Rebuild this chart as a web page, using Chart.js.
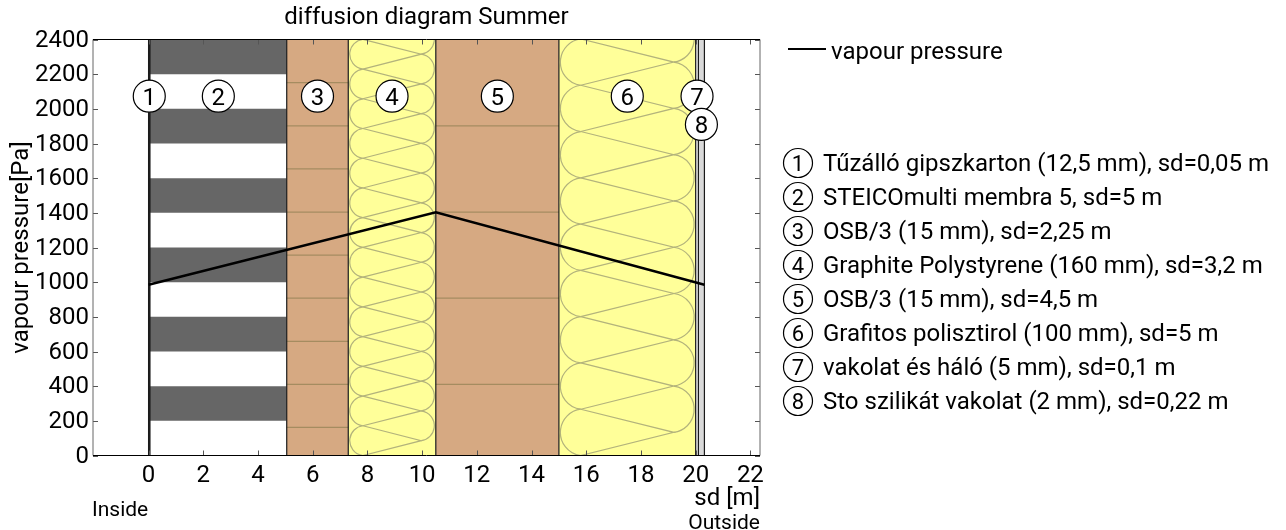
<!DOCTYPE html>
<html lang="en">
<head>
    <meta charset="UTF-8">
    <title>diffusion diagram Summer</title>
    <script src="https://cdn.jsdelivr.net/npm/chart.js"></script>
    <style>
        html, body { margin: 0; padding: 0; background: #fff; }
        #wrap { position: relative; width: 1286px; height: 530px; }
    </style>
</head>
<body>
    <div id="wrap"><canvas id="chart" width="1286" height="530"></canvas></div>

    <script>
        // wall layers, from inside to outside
        const layerEdges = [0, 0.05, 5.05, 7.3, 10.5, 15, 20, 20.1, 20.32];
        const layerFills = ['#111111', '#ffffff', '#d6a982', '#ffff99', '#d6a982', '#ffff99', '#eeeeee', '#d9d9d9'];
        const layerNames = [
            'Tűzálló gipszkarton (12,5 mm), sd=0,05 m',
            'STEICOmulti membra 5, sd=5 m',
            'OSB/3 (15 mm), sd=2,25 m',
            'Graphite Polystyrene (160 mm), sd=3,2 m',
            'OSB/3 (15 mm), sd=4,5 m',
            'Grafitos polisztirol (100 mm), sd=5 m',
            'vakolat és háló (5 mm), sd=0,1 m',
            'Sto szilikát vakolat (2 mm), sd=0,22 m'
        ];
        const labelY = [2073, 2073, 2073, 2073, 2073, 2073, 2073, 1910];

        // vapour pressure curve
        const sdValues = [0, 10.5, 20.32];
        const pressureValues = [985, 1403, 985];

        // membrane stripes (layer 2)
        const stripeBottoms = [200, 600, 1000, 1400, 1800, 2200];
        const stripeHeight = 200;

        // OSB board joints
        const osbJoints3 = [162, 410, 658, 908, 1156, 1404, 1654, 1902, 2151];
        const osbJoints5 = [410, 908, 1404, 1902];

        // insulation pattern repeat, in Pa
        const insulationRepeat4 = 171.5;
        const insulationRepeat6 = 267;

        const xTicks = [0, 2, 4, 6, 8, 10, 12, 14, 16, 18, 20, 22];
        const yTicks = [0, 200, 400, 600, 800, 1000, 1200, 1400, 1600, 1800, 2000, 2200, 2400];

        const FONT = 'Roboto';
        const yMax = 2400;

        function vline(x, color, width) {
            return {
                data: [{x: x, y: 0}, {x: x, y: yMax}],
                showLine: true, borderColor: color, borderWidth: width,
                pointRadius: 0, order: 5
            };
        }

        const datasets = [];

        // vapour line goes on top of everything
        datasets.push({
            label: 'vapour pressure',
            data: sdValues.map((x, i) => ({x: x, y: pressureValues[i]})),
            showLine: true, borderColor: '#000', borderWidth: 2.5,
            pointRadius: 0, order: 0
        });

        layerFills.forEach((color, i) => {
            datasets.push({
                data: [{x: layerEdges[i], y: yMax}, {x: layerEdges[i + 1], y: yMax}],
                showLine: true, borderWidth: 0, pointRadius: 0,
                fill: 'origin', backgroundColor: color, order: 20
            });
        });

        stripeBottoms.forEach(b => {
            datasets.push({
                data: [{x: layerEdges[1], y: b + stripeHeight}, {x: layerEdges[2], y: b + stripeHeight}],
                showLine: true, borderWidth: 0, pointRadius: 0,
                fill: {value: b}, backgroundColor: '#666666', order: 10
            });
        });

        osbJoints3.forEach(y => {
            datasets.push({
                data: [{x: layerEdges[2], y: y}, {x: layerEdges[3], y: y}],
                showLine: true, borderColor: '#a58c60', borderWidth: 1.2, pointRadius: 0, order: 10
            });
        });
        osbJoints5.forEach(y => {
            datasets.push({
                data: [{x: layerEdges[4], y: y}, {x: layerEdges[5], y: y}],
                showLine: true, borderColor: '#a58c60', borderWidth: 1.2, pointRadius: 0, order: 10
            });
        });

        layerEdges.forEach(x => datasets.push(vline(x, '#1a1a1a', 1.2)));

        function drawInsulation(chart, from, to, repeat) {
            const {ctx, scales, chartArea} = chart;
            const left = scales.x.getPixelForValue(from);
            const right = scales.x.getPixelForValue(to);
            const width = right - left;
            const chord = scales.y.getPixelForValue(0) - scales.y.getPixelForValue(repeat);
            const half = chord / 2;
            const sag = half * 0.88;
            const radius = (half * half + sag * sag) / (2 * sag);
            const nodeL = left + 1.5 + sag;
            const nodeR = right - 1.5 - sag;
            const angle = Math.asin(half / radius);

            ctx.save();
            ctx.beginPath();
            ctx.rect(left, chartArea.top, width, chartArea.height);
            ctx.clip();
            ctx.strokeStyle = '#b3b37c';
            ctx.lineWidth = 1.2;
            for (let k = 0; k * repeat < yMax + repeat; k++) {
                const yL = scales.y.getPixelForValue(k * repeat);
                const yLup = scales.y.getPixelForValue((k + 1) * repeat);
                const yR = scales.y.getPixelForValue((k + 0.5) * repeat);
                const yRup = scales.y.getPixelForValue((k + 1.5) * repeat);
                ctx.beginPath();
                ctx.moveTo(nodeL, yL);
                ctx.lineTo(nodeR, yR);
                ctx.lineTo(nodeL, yLup);
                ctx.stroke();
                ctx.beginPath();
                ctx.arc(nodeL - sag + radius, (yL + yLup) / 2, radius, Math.PI - angle, Math.PI + angle);
                ctx.stroke();
                ctx.beginPath();
                ctx.arc(nodeR + sag - radius, (yR + yRup) / 2, radius, -angle, angle);
                ctx.stroke();
            }
            ctx.restore();
        }

        function numberCircle(ctx, x, y, r, n, size) {
            ctx.beginPath();
            ctx.arc(x, y, r, 0, Math.PI * 2);
            ctx.fillStyle = '#fff';
            ctx.fill();
            ctx.lineWidth = 1.2;
            ctx.strokeStyle = '#000';
            ctx.stroke();
            ctx.fillStyle = '#000';
            ctx.font = size + 'px ' + FONT;
            ctx.textAlign = 'center';
            ctx.textBaseline = 'alphabetic';
            ctx.fillText(String(n), x, y + size * 0.355);
        }

        const wallPlugin = {
            id: 'wall',
            beforeDraw(chart) {
                // middle baseline sits a bit high for digits
                chart.scales.y.getLabelItems().forEach(item => { item.options.translation[1] += 1; });
            },
            beforeDatasetDraw(chart, args) {
                // insulation goes right under the vapour line
                if (args.index !== 0) return;
                drawInsulation(chart, layerEdges[3], layerEdges[4], insulationRepeat4);
                drawInsulation(chart, layerEdges[5], layerEdges[6], insulationRepeat6);
            },
            afterDatasetsDraw(chart) {
                const {ctx, scales, chartArea} = chart;
                const {left, right, top, bottom} = chartArea;

                ctx.save();
                ctx.lineWidth = 1;
                ctx.strokeStyle = '#555';
                ctx.beginPath();
                xTicks.forEach(t => {
                    const x = Math.round(scales.x.getPixelForValue(t)) + 0.5;
                    ctx.moveTo(x, bottom); ctx.lineTo(x, bottom - 5);
                    ctx.moveTo(x, top); ctx.lineTo(x, top + 5);
                });
                yTicks.forEach(t => {
                    const y = Math.round(scales.y.getPixelForValue(t)) + 0.5;
                    ctx.moveTo(left, y); ctx.lineTo(left + 5, y);
                    ctx.moveTo(right, y); ctx.lineTo(right - 5, y);
                });
                ctx.stroke();

                // frame
                ctx.strokeStyle = '#666';
                ctx.beginPath();
                ctx.moveTo(left, bottom); ctx.lineTo(left, top);
                ctx.moveTo(right, top); ctx.lineTo(right, bottom);
                ctx.stroke();
                ctx.strokeStyle = '#000';
                ctx.beginPath();
                ctx.moveTo(left, top); ctx.lineTo(right, top);
                ctx.moveTo(left, bottom); ctx.lineTo(right, bottom);
                ctx.stroke();

                // layer numbers in the plot
                layerNames.forEach((name, i) => {
                    const cx = scales.x.getPixelForValue((layerEdges[i] + layerEdges[i + 1]) / 2);
                    const cy = scales.y.getPixelForValue(labelY[i]);
                    numberCircle(ctx, cx, cy, 16, i + 1, 24);
                });

                // line legend
                ctx.strokeStyle = '#000';
                ctx.lineWidth = 2;
                ctx.beginPath();
                ctx.moveTo(788, 49); ctx.lineTo(826, 49);
                ctx.stroke();
                ctx.fillStyle = '#000';
                ctx.textAlign = 'left';
                ctx.textBaseline = 'alphabetic';
                ctx.font = '24px ' + FONT;
                ctx.fillText('vapour pressure', 831, 59);

                // layer legend
                layerNames.forEach((name, i) => {
                    const y = 163 + i * 34;
                    numberCircle(ctx, 798, y, 14.5, i + 1, 22);
                    ctx.fillStyle = '#000';
                    ctx.textAlign = 'left';
                    ctx.font = '24px ' + FONT;
                    ctx.fillText(name, 823, y + 8);
                });

                ctx.font = '21px ' + FONT;
                ctx.textAlign = 'left';
                ctx.fillText('Inside', 92, 516);
                ctx.textAlign = 'right';
                ctx.fillText('Outside', 760, 529);
                ctx.restore();
            }
        };

        new Chart(document.getElementById('chart'), {
            type: 'scatter',
            data: {datasets: datasets},
            plugins: [wallPlugin],
            options: {
                responsive: false,
                animation: false,
                layout: {padding: {left: 0, top: 0, right: 526, bottom: 0}},
                plugins: {
                    legend: {display: false},
                    tooltip: {enabled: false},
                    title: {
                        display: true,
                        fullSize: false,
                        text: 'diffusion diagram Summer',
                        color: '#000',
                        font: {family: FONT, size: 24, weight: 'normal'},
                        padding: {top: 4, bottom: 6.7}
                    }
                },
                scales: {
                    x: {
                        type: 'linear',
                        min: -2.032,
                        max: 22.352,
                        afterBuildTicks(scale) { scale.ticks = xTicks.map(v => ({value: v})); },
                        afterFit(scale) { scale.height = 74.5; },
                        grid: {display: false, drawTicks: false},
                        border: {display: false},
                        ticks: {
                            color: '#000', maxRotation: 0, autoSkip: false, padding: 6,
                            font: {family: FONT, size: 24},
                            callback: v => String(v)
                        },
                        title: {
                            display: true, text: 'sd [m]', align: 'end', color: '#000',
                            font: {family: FONT, size: 24}, padding: {top: 0, bottom: 17}
                        }
                    },
                    y: {
                        min: 0,
                        max: yMax,
                        afterBuildTicks(scale) { scale.ticks = yTicks.map(v => ({value: v})); },
                        afterFit(scale) { scale.width = 93; },
                        grid: {display: false, drawTicks: false},
                        border: {display: false},
                        ticks: {
                            color: '#000', autoSkip: false, padding: 4,
                            font: {family: FONT, size: 24},
                            callback: v => String(v)
                        },
                        title: {
                            display: true, text: 'vapour pressure[Pa]', color: '#000',
                            font: {family: FONT, size: 24}, padding: {top: 8, bottom: 0}
                        }
                    }
                }
            }
        });
    </script>
</body>
</html>
